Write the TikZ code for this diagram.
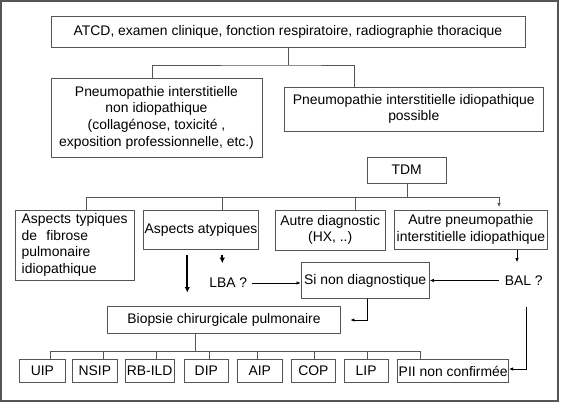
\documentclass[tikz,border=0pt]{standalone}
\usepackage{fontspec}
\setmainfont{Liberation Sans}
\usetikzlibrary{arrows.meta}
\definecolor{ln}{RGB}{85,85,85}
\begin{document}
\begin{tikzpicture}[x=1pt,y=-1pt,
  box/.style={draw=ln,line width=0.9pt,inner sep=0pt,align=center,font=\fontsize{13.9}{16.7}\selectfont,text=black},
  lab/.style={inner sep=0pt,font=\fontsize{13.9}{16.7}\selectfont},
  conn/.style={draw=ln,line width=0.9pt},
  thin/.style={draw=black,line width=0.7pt,-{Latex[length=4pt,width=3.4pt]}},
  thick/.style={draw=black,line width=1.8pt,-{Latex[length=5.5pt,width=5.5pt]}}]
\useasboundingbox (0,0) rectangle (562,402);
\draw[ln,line width=1.4pt] (1,1) rectangle (558,401);
% boxes
\node[box,minimum width=474pt,minimum height=31pt] (top) at (288,31.5) {ATCD, examen clinique, fonction respiratoire, radiographie thoracique};
\node[box,minimum width=211pt,minimum height=79pt] (nonidio) at (156.5,117.5) {Pneumopathie interstitielle\\non idiopathique\\(collagénose, toxicité ,\\exposition professionnelle, etc.)};
\node[box,minimum width=259.5pt,minimum height=44pt] (idio) at (413.75,109) {Pneumopathie interstitielle idiopathique\\possible};
\node[box,minimum width=78.7pt,minimum height=26.3pt] (tdm) at (406.7,170.2) {TDM};
\node[box,minimum width=118.6pt,minimum height=70pt,align=left,text width=106.6pt] (typ) at (75,245) {Aspects typiques\\de\ \ fibrose\\pulmonaire\\idiopathique};
\node[box,minimum width=115.4pt,minimum height=39.3pt] (atyp) at (201,229.7) {Aspects atypiques};
\node[box,minimum width=110.3pt,minimum height=40pt] (autre) at (330.2,230) {Autre diagnostic\\(HX, ..)};
\node[box,minimum width=153.7pt,minimum height=39.3pt] (autrep) at (470.9,229.7) {Autre pneumopathie\\interstitielle idiopathique};
\node[lab] (lba) at (228.3,283) {LBA ?};
\node[box,minimum width=128.3pt,minimum height=35.6pt] (sinon) at (365.2,280.5) {Si non diagnostique};
\node[lab] (bal) at (523.7,280.5) {BAL ?};
\node[box,minimum width=233.4pt,minimum height=26.6pt] (bio) at (224,320) {Biopsie chirurgicale pulmonaire};
\begin{scope}[every node/.style={box,minimum height=22.6pt}]
\node[minimum width=46.7pt] (uip) at (42.35,371) {UIP};
\node[minimum width=45pt] (nsip) at (94.8,371) {NSIP};
\node[minimum width=49.3pt] (rbild) at (149.65,371) {RB-ILD};
\node[minimum width=44pt] (dip) at (206.3,371) {DIP};
\node[minimum width=45pt] (aip) at (259.8,371) {AIP};
\node[minimum width=44.7pt] (cop) at (313.35,371) {COP};
\node[minimum width=43.7pt] (lip) at (366.15,371) {LIP};
\node[minimum width=111pt] (pii) at (453.2,371) {PII non confirmée};
\end{scope}
% top tree
\coordinate (b1) at (288.7,65);
\draw[conn] (top.south -| b1) -- (b1);
\draw[conn] ([xshift=-4.5pt]nonidio.north) |- (b1) -| ([xshift=-59.4pt]idio.north);
% TDM tree
\coordinate (b2) at (407.3,197);
\draw[conn] (tdm.south -| b2) -- (b2);
\draw[conn] ([xshift=11pt]typ.north) |- (b2);
\draw[conn] ([xshift=21.3pt]atyp.north) -- ([xshift=21.3pt]atyp.north |- b2);
\draw[conn] ([xshift=24.8pt]autre.north) -- ([xshift=24.8pt]autre.north |- b2);
\coordinate (b2r) at (499,197);
\draw[conn] (b2) -- (b2r);
\draw[thin,draw=ln] (b2r) -- ([yshift=2.5pt]autrep.north -| b2r);
% arrows
\draw[thick] ([xshift=21.3pt,yshift=-4.7pt]atyp.south) -- ([xshift=21.3pt,yshift=-13.4pt]atyp.south);
\draw[thick] (187.3,255) -- ([yshift=13.7pt]bio.north -| 187.3,0);
\draw[thin] ([xshift=5pt]lba.east) -- (sinon.west |- lba.east);
\draw[thin] ([xshift=-6pt]bal.west) -- (sinon.east |- bal.west);
\draw[thin] ([xshift=46.1pt]autrep.south) -- ([xshift=46.1pt,yshift=-12.4pt]autrep.south);
\coordinate (c1) at (367.7,320);
\draw[thin] (sinon.south -| c1) -- (c1) -- ([xshift=9.3pt]bio.east |- c1);
\coordinate (c2) at (526.3,306.7);
\draw[thin] (c2) |- (pii.east |- 0,369);
% biopsy tree
\coordinate (b3) at (195.7,351);
\draw[conn] (bio.south -| b3) -- (b3);
\draw[conn] ([xshift=8.35pt]uip.north) |- (b3);
\draw[conn] (b3) -| ([xshift=-32.9pt]pii.north);
\foreach \n/\d in {nsip/8.9,rbild/6.65,dip/2.7,aip/-2.1,cop/0.95,lip/1.55}
  \draw[conn] ([xshift=\d pt]\n.north) -- ([xshift=\d pt]\n.north |- b3);
\end{tikzpicture}
\end{document}
